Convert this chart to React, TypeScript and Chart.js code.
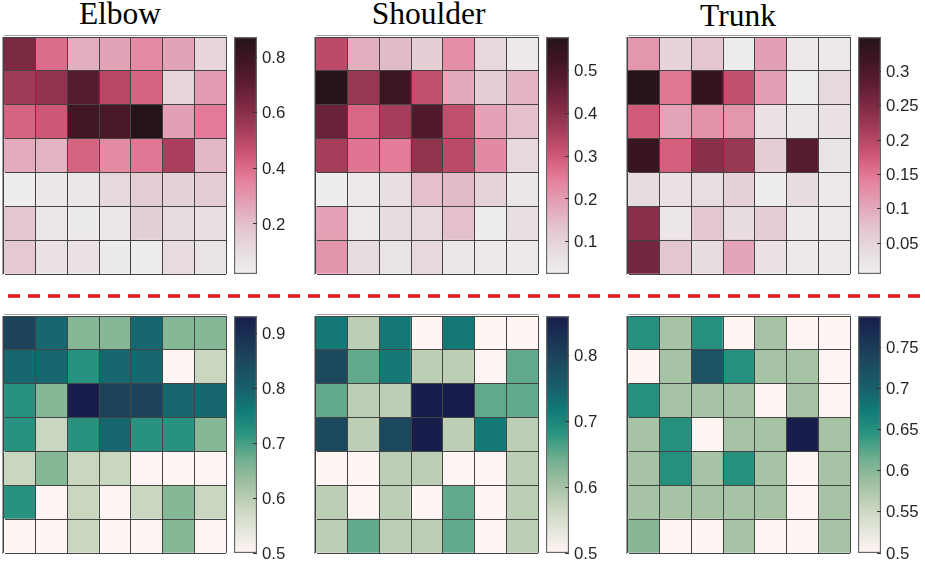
import React from 'react';
import { Chart, registerables } from 'chart.js';

Chart.register(...registerables);

// cell values, top row first
const elbowTop = [
    [0.63, 0.4, 0.24, 0.27, 0.33, 0.27, 0.13],
    [0.55, 0.58, 0.72, 0.5, 0.42, 0.13, 0.29],
    [0.42, 0.45, 0.78, 0.76, 0.87, 0.28, 0.37],
    [0.25, 0.23, 0.42, 0.33, 0.38, 0.53, 0.22],
    [0.03, 0.05, 0.06, 0.12, 0.16, 0.14, 0.16],
    [0.18, 0.06, 0.04, 0.06, 0.15, 0.1, 0.09],
    [0.17, 0.08, 0.08, 0.04, 0.03, 0.11, 0.07],
];
const shoulderTop = [
    [0.33, 0.17, 0.15, 0.11, 0.22, 0.09, 0.04],
    [0.57, 0.38, 0.53, 0.32, 0.18, 0.11, 0.16],
    [0.45, 0.28, 0.36, 0.49, 0.32, 0.19, 0.14],
    [0.36, 0.26, 0.25, 0.39, 0.33, 0.23, 0.09],
    [0.03, 0.04, 0.07, 0.14, 0.15, 0.1, 0.05],
    [0.19, 0.04, 0.08, 0.09, 0.14, 0.03, 0.07],
    [0.21, 0.08, 0.06, 0.09, 0.05, 0.04, 0.04],
];
const trunkTop = [
    [0.12, 0.05, 0.07, 0.01, 0.11, 0.015, 0.015],
    [0.345, 0.15, 0.33, 0.19, 0.11, 0.01, 0.045],
    [0.175, 0.105, 0.125, 0.12, 0.03, 0.02, 0.03],
    [0.325, 0.17, 0.24, 0.225, 0.06, 0.29, 0.025],
    [0.04, 0.03, 0.035, 0.055, 0.008, 0.04, 0.015],
    [0.24, 0.02, 0.07, 0.04, 0.06, 0.015, 0.015],
    [0.26, 0.07, 0.04, 0.105, 0.03, 0.015, 0.015],
];
const elbowBottom = [
    [0.86, 0.79, 0.65, 0.65, 0.79, 0.65, 0.65],
    [0.79, 0.79, 0.72, 0.79, 0.79, 0.5, 0.58],
    [0.72, 0.65, 0.93, 0.86, 0.86, 0.79, 0.79],
    [0.72, 0.58, 0.72, 0.79, 0.72, 0.72, 0.65],
    [0.58, 0.65, 0.58, 0.58, 0.5, 0.5, 0.5],
    [0.72, 0.5, 0.58, 0.5, 0.58, 0.65, 0.58],
    [0.5, 0.5, 0.58, 0.5, 0.5, 0.65, 0.5],
];
const shoulderBottom = [
    [0.72, 0.58, 0.72, 0.5, 0.72, 0.5, 0.5],
    [0.79, 0.65, 0.72, 0.58, 0.58, 0.5, 0.65],
    [0.65, 0.58, 0.58, 0.86, 0.86, 0.65, 0.65],
    [0.79, 0.58, 0.79, 0.86, 0.58, 0.72, 0.58],
    [0.5, 0.5, 0.58, 0.58, 0.5, 0.5, 0.58],
    [0.58, 0.5, 0.58, 0.5, 0.65, 0.5, 0.58],
    [0.58, 0.65, 0.58, 0.58, 0.65, 0.5, 0.58],
];
const trunkBottom = [
    [0.65, 0.58, 0.65, 0.5, 0.58, 0.5, 0.5],
    [0.5, 0.58, 0.72, 0.65, 0.58, 0.58, 0.5],
    [0.65, 0.58, 0.58, 0.58, 0.5, 0.58, 0.5],
    [0.58, 0.65, 0.5, 0.58, 0.58, 0.79, 0.58],
    [0.58, 0.65, 0.58, 0.65, 0.58, 0.5, 0.58],
    [0.58, 0.58, 0.58, 0.58, 0.58, 0.5, 0.58],
    [0.6, 0.5, 0.5, 0.58, 0.5, 0.5, 0.58],
];

const columns = ['1', '2', '3', '4', '5', '6', '7'];

const pinkStops = ['#efeeef', '#e7dcdf', '#e3c3cd', '#e3a1b5', '#e47f9b', '#cf5876', '#a83f5c', '#812c45', '#5e1d33', '#3f1622', '#24131a'];
const tealStops = ['#fff5f3', '#e3e6da', '#c5d4bc', '#9dbf9f', '#6eae8e', '#2c9480', '#127b77', '#185f6b', '#1d4a60', '#1a3355', '#171e4b'];

const hex = (c: string) => [1, 3, 5].map((i) => parseInt(c.slice(i, i + 2), 16));

const colorAt = (stops: string[], t: number): string => {
    const p = Math.min(Math.max(t, 0), 1) * (stops.length - 1);
    const i = Math.min(Math.floor(p), stops.length - 2);
    const a = hex(stops[i]);
    const b = hex(stops[i + 1]);
    const rgb = a.map((v, k) => Math.round(v + (b[k] - v) * (p - i)));
    return `rgb(${rgb[0]},${rgb[1]},${rgb[2]})`;
};

interface PanelProps {
    values: number[][];
    stops: string[];
    min: number;
    max: number;
    ticks: number[];
    left: number;
    top: number;
}

const SIZE_W = 222;
const SIZE_H = 237;
const BAR_GAP = 8;
const BAR_W = 23;
const PAD = 12;

const Heatmap: React.FC<PanelProps> = ({ values, stops, min, max, left, top }) => {
    const ref = React.useRef<HTMLCanvasElement>(null);

    React.useEffect(() => {
        if (!ref.current) return;
        const chart = new Chart(ref.current, {
            type: 'bar',
            data: {
                labels: columns,
                // the stack is built from the bottom, so the last row goes first
                datasets: [...values].reverse().map((row) => ({
                    data: row.map(() => 1),
                    backgroundColor: row.map((v) => colorAt(stops, (v - min) / (max - min))),
                    borderWidth: 0,
                    barPercentage: 1,
                    categoryPercentage: 1,
                })),
            },
            options: {
                animation: false,
                responsive: false,
                layout: { padding: 2 },
                plugins: { legend: { display: false }, tooltip: { enabled: false } },
                scales: {
                    x: {
                        stacked: true,
                        offset: true,
                        ticks: { display: false, autoSkip: false },
                        grid: { offset: true, color: '#444444', drawTicks: false, z: 1 },
                        border: { color: '#444444' },
                    },
                    y: {
                        stacked: true,
                        min: 0,
                        max: 7,
                        ticks: { display: false, stepSize: 1 },
                        grid: { color: '#444444', drawTicks: false, z: 1 },
                        border: { color: '#444444' },
                    },
                },
            },
        });
        return () => chart.destroy();
    }, [values, stops, min, max]);

    return (
        <canvas
            ref={ref}
            width={SIZE_W + 4}
            height={SIZE_H + 4}
            style={{ position: 'absolute', left: left - 2, top: top - 2 }}
        />
    );
};

const ColorBar: React.FC<PanelProps> = ({ stops, min, max, ticks, left, top }) => {
    const ref = React.useRef<HTMLCanvasElement>(null);

    React.useEffect(() => {
        if (!ref.current) return;
        const chart = new Chart(ref.current, {
            type: 'bar',
            data: {
                labels: [''],
                datasets: [{
                    data: [[min, max]],
                    backgroundColor: (ctx: any) => {
                        const area = ctx.chart.chartArea;
                        if (!area) return stops[0];
                        const g = ctx.chart.ctx.createLinearGradient(0, area.bottom, 0, area.top);
                        stops.forEach((c, i) => g.addColorStop(i / (stops.length - 1), c));
                        return g;
                    },
                    borderColor: '#666666',
                    borderWidth: 1.5,
                    borderSkipped: false,
                    barPercentage: 1,
                    categoryPercentage: 1,
                }],
            },
            options: {
                animation: false,
                responsive: false,
                layout: { padding: { top: PAD, bottom: PAD } },
                plugins: { legend: { display: false }, tooltip: { enabled: false } },
                scales: {
                    x: { display: false },
                    y: {
                        position: 'right',
                        min,
                        max,
                        afterBuildTicks: (scale: any) => {
                            scale.ticks = ticks.map((value) => ({ value }));
                        },
                        afterFit: (scale: any) => {
                            // labels may hang over the plot ends, the padding has room for them
                            scale.width = 50;
                            scale.paddingTop = 0;
                            scale.paddingBottom = 0;
                        },
                        ticks: {
                            autoSkip: false,
                            padding: 9,
                            labelOffset: 1,
                            color: '#262626',
                            font: { family: '"Liberation Sans"', size: 16.8 },
                            callback: (v: any) => String(v),
                        },
                        grid: { drawOnChartArea: false, tickLength: -4, color: '#333333', z: 1 },
                        border: { display: false },
                    },
                },
            },
        });
        return () => chart.destroy();
    }, [stops, min, max, ticks]);

    return (
        <canvas
            ref={ref}
            width={BAR_W + 50}
            height={SIZE_H + PAD * 2}
            style={{ position: 'absolute', left: left + SIZE_W + BAR_GAP, top: top - PAD }}
        />
    );
};

const Divider: React.FC = () => {
    const ref = React.useRef<HTMLCanvasElement>(null);

    React.useEffect(() => {
        if (!ref.current) return;
        const chart = new Chart(ref.current, {
            type: 'line',
            data: {
                labels: ['a', 'b'],
                datasets: [{
                    data: [0, 0],
                    borderColor: '#e41616',
                    borderWidth: 3.4,
                    borderDash: [12, 8],
                    pointRadius: 0,
                }],
            },
            options: {
                animation: false,
                responsive: false,
                layout: { padding: { left: 8 } },
                plugins: { legend: { display: false }, tooltip: { enabled: false } },
                scales: {
                    x: { display: false },
                    y: { display: false, min: -1, max: 1 },
                },
            },
        });
        return () => chart.destroy();
    }, []);

    return <canvas ref={ref} width={925} height={10} style={{ position: 'absolute', left: 0, top: 291 }} />;
};

const pinkPanels = [
    { values: elbowTop, min: 0.02, max: 0.872, ticks: [0.2, 0.4, 0.6, 0.8], left: 4 },
    { values: shoulderTop, min: 0.025, max: 0.578, ticks: [0.1, 0.2, 0.3, 0.4, 0.5], left: 316 },
    { values: trunkTop, min: 0.005, max: 0.35, ticks: [0.05, 0.1, 0.15, 0.2, 0.25, 0.3], left: 628 },
];
const tealPanels = [
    { values: elbowBottom, min: 0.5, max: 0.931, ticks: [0.5, 0.6, 0.7, 0.8, 0.9], left: 4 },
    { values: shoulderBottom, min: 0.5, max: 0.86, ticks: [0.5, 0.6, 0.7, 0.8], left: 316 },
    { values: trunkBottom, min: 0.5, max: 0.788, ticks: [0.5, 0.55, 0.6, 0.65, 0.7, 0.75], left: 628 },
];

const titles = [
    { text: 'Elbow', center: 120, top: -3 },
    { text: 'Shoulder', center: 428.5, top: -3 },
    { text: 'Trunk', center: 738, top: -1 },
];

export default function App() {
    return (
        <div style={{ position: 'absolute', left: 0, top: 0, width: 925, height: 564, overflow: 'hidden', background: '#fff' }}>
            {titles.map((t) => (
                <div
                    key={t.text}
                    style={{
                        position: 'absolute',
                        left: t.center - 100,
                        top: t.top,
                        width: 200,
                        textAlign: 'center',
                        fontFamily: '"Liberation Serif"',
                        fontSize: 31.5,
                        lineHeight: '34px',
                        color: '#000',
                    }}
                >
                    {t.text}
                </div>
            ))}
            {pinkPanels.map((p) => (
                <React.Fragment key={p.left}>
                    <Heatmap {...p} stops={pinkStops} top={37} />
                    <ColorBar {...p} stops={pinkStops} top={37} />
                </React.Fragment>
            ))}
            <Divider />
            {tealPanels.map((p) => (
                <React.Fragment key={p.left}>
                    <Heatmap {...p} stops={tealStops} top={316} />
                    <ColorBar {...p} stops={tealStops} top={316} />
                </React.Fragment>
            ))}
        </div>
    );
}
